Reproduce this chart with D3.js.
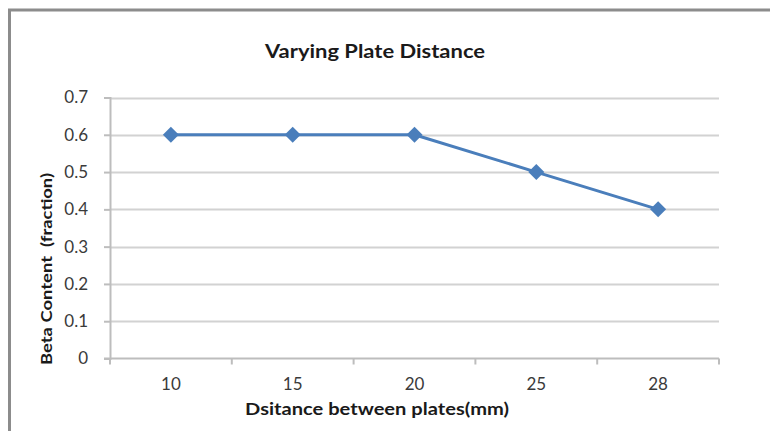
<!DOCTYPE html>
<html>
<head>
<meta charset="utf-8">
<script src="https://cdn.jsdelivr.net/npm/d3@7"></script>
<style>
  html, body { margin: 0; padding: 0; background: #fff; overflow: hidden; }
  svg { display: block; }
  text { font-family: Lato, "Open Sans", sans-serif; }
</style>
</head>
<body>
<svg id="chart" width="770" height="431"></svg>
<script>
// Beta content against the distance between plates
const categories = ["10", "15", "20", "25", "28"];
const betaContent = [0.6, 0.6, 0.6, 0.5, 0.4];
const yTicks = [0, 0.1, 0.2, 0.3, 0.4, 0.5, 0.6, 0.7];

const svg = d3.select("#chart");
const W = 770, H = 431;
const plot = { left: 110, right: 719, top: 97.5, bottom: 358.5 };

// outer frame (open on the right and bottom, where it runs off the page)
svg.append("rect")
  .attr("x", 9.5).attr("y", 10)
  .attr("width", W + 60).attr("height", H + 60)
  .attr("fill", "#fff")
  .attr("stroke", "#8c8c8c").attr("stroke-width", 3);

const x = d3.scaleBand().domain(categories).range([plot.left, plot.right]).padding(0);
const y = d3.scaleLinear().domain([0, 0.7]).range([plot.bottom, plot.top]);

// horizontal gridlines
svg.append("g")
  .selectAll("line")
  .data(yTicks.slice(1))
  .join("line")
  .attr("x1", plot.left).attr("x2", plot.right)
  .attr("y1", d => Math.round(y(d)) + 0.5).attr("y2", d => Math.round(y(d)) + 0.5)
  .attr("stroke", "#d2d2d2").attr("stroke-width", 2);

// y axis
const yAxis = d3.axisLeft(y).tickValues(yTicks).tickSize(6).tickPadding(16)
  .tickFormat(d => d === 0 ? "0" : d3.format(".1f")(d));
const gy = svg.append("g").attr("transform", `translate(${plot.left},0)`).call(yAxis);
gy.select(".domain").attr("stroke", "#bdbdbd").attr("stroke-width", 2);
gy.selectAll(".tick line").attr("stroke", "#bdbdbd").attr("stroke-width", 2);
gy.selectAll(".tick text").attr("fill", "#3a3a3a").style("font-size", "17px");

// x axis: ticks sit on band boundaries, labels at band centres
const gx = svg.append("g").attr("transform", `translate(0,${plot.bottom})`);
gx.append("line")
  .attr("x1", plot.left - 6).attr("x2", plot.right)
  .attr("y1", 0).attr("y2", 0)
  .attr("stroke", "#bdbdbd").attr("stroke-width", 2);
const bounds = categories.map(c => x(c)).concat([x(categories[categories.length - 1]) + x.bandwidth()]);
gx.selectAll("line.tk")
  .data(bounds)
  .join("line").attr("class", "tk")
  .attr("x1", d => d).attr("x2", d => d)
  .attr("y1", 0).attr("y2", 6)
  .attr("stroke", "#bdbdbd").attr("stroke-width", 2);
gx.selectAll("text")
  .data(categories)
  .join("text")
  .attr("x", d => x(d) + x.bandwidth() / 2)
  .attr("y", 31)
  .attr("text-anchor", "middle")
  .attr("fill", "#3a3a3a")
  .style("font-size", "17px")
  .text(d => d);

// series line
const line = d3.line()
  .x((d, i) => x(categories[i]) + x.bandwidth() / 2)
  .y(d => y(d));
svg.append("path")
  .datum(betaContent)
  .attr("d", line)
  .attr("fill", "none")
  .attr("stroke", "#4a7ebb")
  .attr("stroke-width", 3)
  .attr("stroke-linejoin", "round");

// diamond markers
svg.append("g")
  .selectAll("path")
  .data(betaContent)
  .join("path")
  .attr("transform", (d, i) => `translate(${x(categories[i]) + x.bandwidth() / 2},${y(d)})`)
  .attr("d", "M0,-8 L8,0 L0,8 L-8,0 Z")
  .attr("fill", "#4a7ebb");

// titles
svg.append("text")
  .attr("x", 375).attr("y", 58)
  .attr("text-anchor", "middle")
  .attr("fill", "#1a1a1a")
  .attr("textLength", 220).attr("lengthAdjust", "spacingAndGlyphs")
  .style("font-size", "19px").style("font-weight", "bold")
  .text("Varying Plate Distance");

svg.append("text")
  .attr("x", 377).attr("y", 415)
  .attr("text-anchor", "middle")
  .attr("fill", "#1a1a1a")
  .attr("textLength", 264).attr("lengthAdjust", "spacingAndGlyphs")
  .style("font-size", "17px").style("font-weight", "bold")
  .text("Dsitance between plates(mm)");

svg.append("text")
  .attr("transform", "translate(52,269) rotate(-90)")
  .attr("text-anchor", "middle")
  .attr("fill", "#1a1a1a")
  .attr("textLength", 192).attr("lengthAdjust", "spacingAndGlyphs")
  .style("font-size", "16px").style("font-weight", "bold")
  .style("white-space", "pre")
  .text("Beta Content  (fraction)");
</script>
</body>
</html>
